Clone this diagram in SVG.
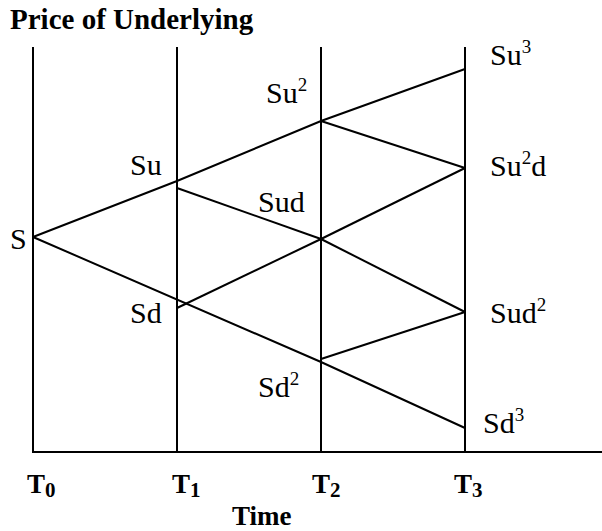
<svg xmlns="http://www.w3.org/2000/svg" width="602" height="531" viewBox="0 0 602 531">
<style>
.ln{stroke:#000;stroke-width:2;fill:none}
.lb{font-family:"Liberation Serif","Times New Roman",serif;font-size:30px;fill:#000}
.bd{font-family:"Liberation Serif","Times New Roman",serif;font-weight:bold;fill:#000}
.sup{font-size:19px}
.sub{font-size:21px}
</style>
<rect width="602" height="531" fill="#fff"/>
<text class="bd" x="10" y="29" font-size="29">Price of Underlying</text>
<g id="axes">
<line class="ln" x1="33" y1="47" x2="33" y2="453"/>
<line class="ln" x1="177" y1="47" x2="177" y2="453"/>
<line class="ln" x1="321" y1="47" x2="321" y2="453"/>
<line class="ln" x1="465" y1="47" x2="465" y2="453"/>
<line class="ln" x1="33" y1="452" x2="602" y2="452"/>
</g>
<g id="connectors">
<polyline class="ln" points="33,237 177,181 321,121 465,69"/>
<line class="ln" x1="321" y1="121" x2="465" y2="168"/>
<line class="ln" x1="177" y1="188" x2="321" y2="239"/>
<line class="ln" x1="321" y1="239" x2="465" y2="168"/>
<line class="ln" x1="321" y1="239" x2="465" y2="312"/>
<line class="ln" x1="177" y1="308" x2="321" y2="239"/>
<polyline class="ln" points="33,237 321,362 465,428"/>
<line class="ln" x1="321" y1="359" x2="465" y2="312"/>
</g>
<g id="node-S"><text class="lb" x="10" y="249">S</text></g>
<g id="node-Su"><text class="lb" x="130" y="175">Su</text></g>
<g id="node-Sd"><text class="lb" x="130" y="323">Sd</text></g>
<g id="node-Su2"><text class="lb" x="266" y="103">Su<tspan class="sup" dy="-12">2</tspan></text></g>
<g id="node-Sud"><text class="lb" x="258" y="212">Sud</text></g>
<g id="node-Sd2"><text class="lb" x="258" y="397">Sd<tspan class="sup" dy="-12">2</tspan></text></g>
<g id="node-Su3"><text class="lb" x="490" y="65">Su<tspan class="sup" dy="-12">3</tspan></text></g>
<g id="node-Su2d"><text class="lb" x="490" y="176">Su<tspan class="sup" dy="-12">2</tspan><tspan dy="12">d</tspan></text></g>
<g id="node-Sud2"><text class="lb" x="490" y="323">Sud<tspan class="sup" dy="-12">2</tspan></text></g>
<g id="node-Sd3"><text class="lb" x="483" y="433">Sd<tspan class="sup" dy="-12">3</tspan></text></g>
<g id="time-labels">
<text class="bd" x="27" y="493" font-size="27">T<tspan class="sub" dy="4">0</tspan></text>
<text class="bd" x="172" y="493" font-size="27">T<tspan class="sub" dy="4">1</tspan></text>
<text class="bd" x="312" y="493" font-size="27">T<tspan class="sub" dy="4">2</tspan></text>
<text class="bd" x="454" y="493" font-size="27">T<tspan class="sub" dy="4">3</tspan></text>
<text class="bd" x="232" y="525" font-size="27">Time</text>
</g>
</svg>
